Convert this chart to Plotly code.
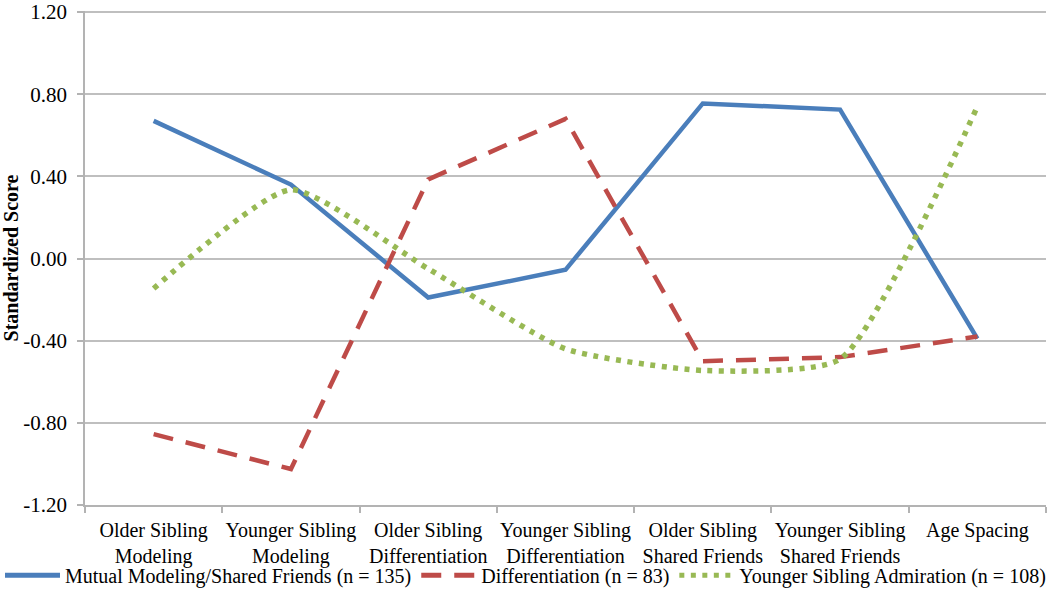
import plotly.graph_objects as go

categories = [
    "Older Sibling<br>Modeling",
    "Younger Sibling<br>Modeling",
    "Older Sibling<br>Differentiation",
    "Younger Sibling<br>Differentiation",
    "Older Sibling<br>Shared Friends",
    "Younger Sibling<br>Shared Friends",
    "Age Spacing",
]
mutual_modeling = [0.67, 0.36, -0.19, -0.055, 0.755, 0.725, -0.39]
differentiation = [-0.855, -1.025, 0.385, 0.68, -0.50, -0.48, -0.38]
younger_admiration = [-0.146, 0.335, -0.05, -0.44, -0.545, -0.49, 0.74]

series_names = [
    "Mutual Modeling/Shared Friends (n = 135)",
    "Differentiation (n = 83)",
    "Younger Sibling Admiration (n = 108)",
]
y_ticks = [-1.2, -0.8, -0.4, 0.0, 0.4, 0.8, 1.2]

FONT = "Liberation Serif, Times New Roman, serif"

fig = go.Figure()
fig.add_trace(go.Scatter(
    x=categories, y=mutual_modeling, name=series_names[0], mode="lines",
    line=dict(color="#4A7EBB", width=4.5),
))
fig.add_trace(go.Scatter(
    x=categories, y=differentiation, name=series_names[1], mode="lines",
    line=dict(color="#BE4B48", width=4.5, dash="20px,13px"),
))
fig.add_trace(go.Scatter(
    x=categories, y=younger_admiration, name=series_names[2], mode="lines",
    line=dict(color="#98B954", width=5.5, dash="5px,6.5px", shape="spline", smoothing=0.55),
))

fig.update_layout(
    width=1050, height=614,
    margin=dict(l=82, r=4, t=11, b=109),
    plot_bgcolor="white", paper_bgcolor="white",
    font=dict(family=FONT, size=20, color="black"),
    showlegend=True,
    legend=dict(
        orientation="h", xref="paper", yref="paper",
        x=-0.0845, xanchor="left", y=-0.142, yanchor="middle",
        font=dict(family=FONT, size=20, color="black"),
        itemwidth=55, tracegroupgap=0, itemsizing="constant",
        bgcolor="rgba(0,0,0,0)",
    ),
)
fig.update_xaxes(
    type="category", range=[-0.5, 6.5],
    showline=True, linecolor="#b3b3b3", linewidth=1.5,
    ticks="outside", tickson="boundaries", ticklen=6, tickcolor="#b3b3b3", tickwidth=1.5,
    showgrid=False, tickfont=dict(family=FONT, size=20, color="black"),
    ticklabelstandoff=6, automargin=False, tickangle=0,
)
fig.update_yaxes(
    range=[-1.2, 1.205], tickvals=y_ticks, ticktext=[f"{v:.2f}" for v in y_ticks],
    showline=True, linecolor="#b3b3b3", linewidth=1.5,
    ticks="outside", ticklen=6, tickcolor="#b3b3b3", tickwidth=1.5,
    showgrid=True, gridcolor="#bfbfbf", gridwidth=1.5, zeroline=False,
    tickfont=dict(family=FONT, size=21, color="black"), ticklabelstandoff=6,
    ticklabeloverflow="allow", automargin=False,
    title=dict(text="<b>Standardized Score</b>", font=dict(family=FONT, size=20, color="black"), standoff=4),
)

fig.write_html(
    "out.html",
    config={"displayModeBar": False},
    post_script="document.body.style.margin='0';",
)
